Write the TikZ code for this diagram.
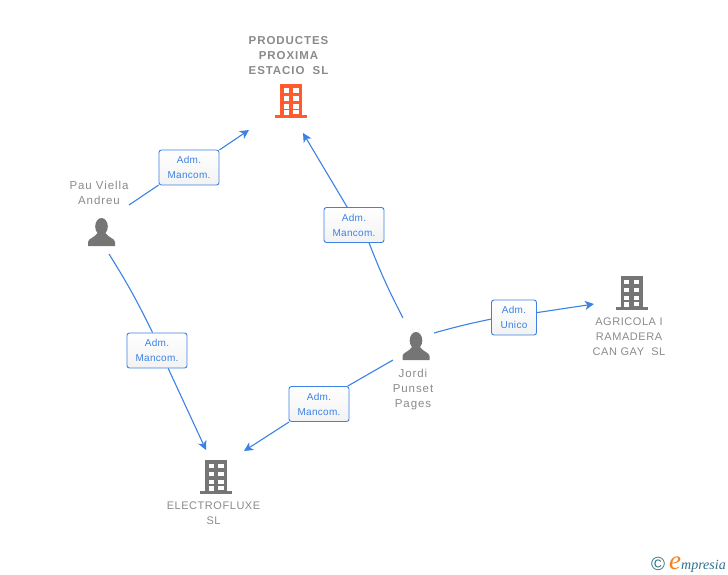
\documentclass[tikz,border=0pt]{standalone}
\usepackage{fontspec}
\setmainfont{Liberation Sans}
\newfontfamily\namefont[LetterSpace=5]{Liberation Sans}
\newfontfamily\personfont[LetterSpace=8]{Liberation Sans}
\newfontfamily\titlefont[LetterSpace=8]{Liberation Sans}
\newfontfamily\rolefont[LetterSpace=3]{Liberation Sans}
\newfontfamily\logofont{Liberation Serif}
\usetikzlibrary{arrows.meta,positioning}
\definecolor{linkblue}{HTML}{3B82E4}
\definecolor{namegray}{HTML}{8A8A8A}
\definecolor{icongray}{HTML}{757575}
\definecolor{iconred}{HTML}{FF5B2D}
\definecolor{logoteal}{HTML}{2E6E8E}
\definecolor{logoorange}{HTML}{F58220}
\tikzset{
  namelabel/.style={text=namegray,align=center,inner sep=0pt,font=\namefont\fontsize{11}{15}\selectfont},
  personlabel/.style={namelabel,font=\personfont\fontsize{11.5}{15}\selectfont},
  rolebox/.style={draw=linkblue,line width=0.9pt,rounded corners=2.5pt,top color=white,bottom color=black!5,
    text=linkblue,align=center,inner sep=0pt,minimum height=35pt,font=\rolefont\fontsize{10}{15}\selectfont},
  link/.style={draw=linkblue,line width=1.1pt},
  linkarrow/.style={link,-{Stealth[length=9pt,width=9pt,inset=2.5pt]}},
  pics/buildingicon/.style={code={
    \fill[#1] (-11,0) rectangle (11,31);
    \fill[#1] (-16,31) rectangle (16,34);
    \foreach \rowy in {4,12,20} {
      \fill[white] (-7.5,\rowy) rectangle (-2.5,\rowy+4.5);
      \fill[white] (2,\rowy) rectangle (7.5,\rowy+4.5);
    }
    \fill[white] (-7.5,26) rectangle (-2.5,31);
    \fill[white] (2,26) rectangle (7.5,30);
  }},
  pics/personicon/.style={code={
    \fill[icongray] (0,8.5) ellipse (6.3 and 8.5);
    \fill[icongray] (-13.5,28) -- (-13.5,24) .. controls (-13,20) and (-7,20) .. (-4,15)
      -- (4,15) .. controls (7,20) and (13,20) .. (13.5,24) -- (13.5,28) -- cycle;
  }}
}
\begin{document}
\begin{tikzpicture}[x=1pt,y=-1pt]
  \useasboundingbox (0,0) rectangle (728,575);
  % Companies and people
  \node[namelabel,font=\titlefont\bfseries\fontsize{11.5}{15}\selectfont] (productes) at (288.5,56) {PRODUCTES\\PROXIMA\\ESTACIO\ \ SL};
  \pic at (291,84.5) {buildingicon=iconred};
  \node[personlabel] (pau) at (99,193) {Pau Viella\\Andreu};
  \pic at (101.5,218) {personicon};
  \node[personlabel] (jordi) at (413,389.5) {Jordi\\Punset\\Pages};
  \pic at (416,332) {personicon};
  \node[namelabel] (agricola) at (629,337) {AGRICOLA I\\RAMADERA\\CAN GAY\ \ SL};
  \pic at (631.5,275.5) {buildingicon=icongray};
  \node[namelabel] (electro) at (213.5,513.5) {ELECTROFLUXE\\SL};
  \pic at (216,459.5) {buildingicon=icongray};
  % Role boxes
  \node[rolebox,minimum width=60pt] (pauprod) at (189,167.5) {Adm.\\Mancom.};
  \node[rolebox,minimum width=60pt] (pauelec) at (157,350.5) {Adm.\\Mancom.};
  \node[rolebox,minimum width=60pt] (jordiprod) at (354,225) {Adm.\\Mancom.};
  \node[rolebox,minimum width=60pt] (jordielec) at (319,404) {Adm.\\Mancom.};
  \node[rolebox,minimum width=45pt] (jordiagri) at (514,317.5) {Adm.\\Unico};
  % Free ends
  \coordinate (pauright) at (129,205);
  \coordinate (paubelow) at (109,254);
  \coordinate (jordiup) at (403,318);
  \coordinate (jordileft) at (393,360);
  \coordinate (jordiright) at (434,333);
  \coordinate (prodleft) at (249,130);
  \coordinate (prodbelow) at (303,133);
  \coordinate (elecleft) at (206,450);
  \coordinate (elecright) at (244,451);
  \coordinate (agrileft) at (594,304);
  % Links
  \draw[link] (pauright) -- (pauprod.210);
  \draw[linkarrow] (pauprod.30) -- (prodleft);
  \draw[link] (paubelow) to[bend left=3] (pauelec.104);
  \draw[linkarrow] (pauelec.-58) -- (elecleft);
  \draw[link] (jordiup) to[bend left=3] (jordiprod.-50);
  \draw[linkarrow] (jordiprod.111) -- (prodbelow);
  \draw[link] (jordileft) -- (jordielec.32);
  \draw[linkarrow] (jordielec.211) -- (elecright);
  \draw[link] (jordiright) to[bend left=2] (jordiagri.184);
  \draw[linkarrow] (jordiagri.12) -- (agrileft);
  % Logo
  \node[inner sep=0pt,text=logoteal,font=\fontsize{19}{19}\selectfont] (copymark) at (658,564) {©};
  \node[inner sep=0pt,anchor=base west,text=logoteal,font=\logofont\itshape\fontsize{14}{14}\selectfont] (logoname) at (669,569)
    {{\color{logoorange}\fontsize{27}{27}\selectfont e}mpresia};
\end{tikzpicture}
\end{document}
